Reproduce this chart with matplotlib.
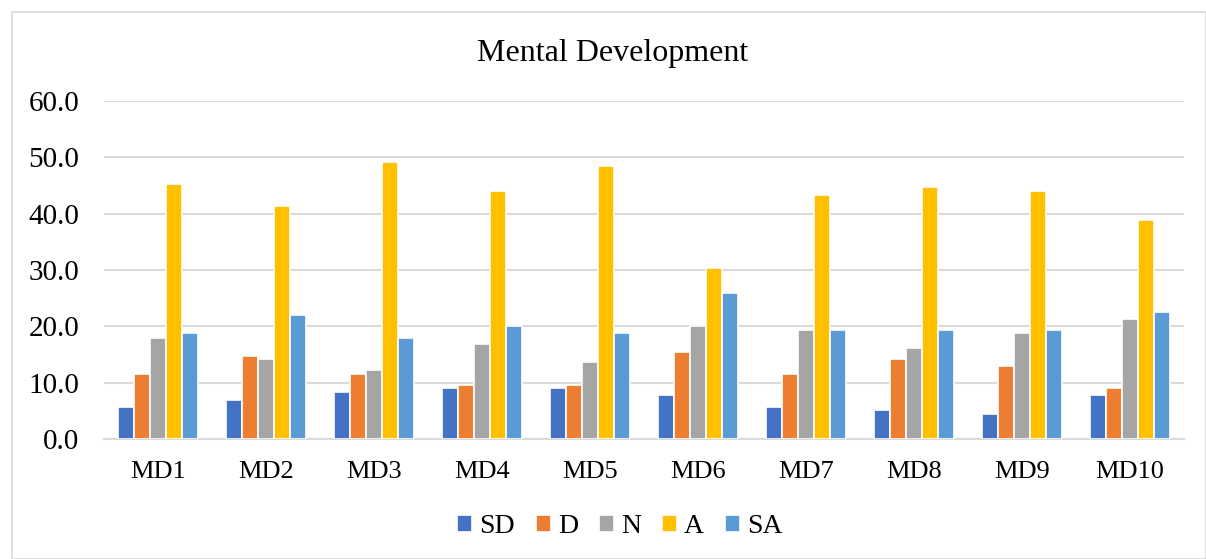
import matplotlib.pyplot as plt
import numpy as np

plt.rcParams['font.family'] = ['Liberation Serif', 'DejaVu Serif']

categories = ['MD1', 'MD2', 'MD3', 'MD4', 'MD5', 'MD6', 'MD7', 'MD8', 'MD9', 'MD10']
series = ['SD', 'D', 'N', 'A', 'SA']
SD = [5.7, 7.0, 8.3, 9.0, 9.0, 7.8, 5.7, 5.1, 4.5, 7.8]
D = [11.6, 14.8, 11.6, 9.6, 9.6, 15.4, 11.6, 14.2, 12.9, 9.0]
N = [18.0, 14.2, 12.2, 16.8, 13.6, 20.0, 19.3, 16.2, 18.8, 21.3]
A = [45.3, 41.4, 49.2, 44.0, 48.5, 30.4, 43.4, 44.7, 44.0, 38.8]
SA = [18.8, 22.0, 18.0, 20.0, 18.8, 25.9, 19.3, 19.3, 19.3, 22.6]
colors = ['#4472c4', '#ed7d31', '#a5a5a5', '#ffc000', '#5b9bd5']

values = [SD, D, N, A, SA]

fig = plt.figure(figsize=(12.06, 5.59), dpi=100)
# outer chart border
fig.patches.append(plt.Rectangle((12 / 1206, 0), 1 - 12 / 1206, 1 - 12 / 559,
                                 transform=fig.transFigure, fill=False,
                                 edgecolor='#d9d9d9', linewidth=1.2))
ax = fig.add_axes([104 / 1206, 0.2147, 1080 / 1206, 0.6046])

x = np.arange(len(categories))
pitch = 0.148
for i, (name, vals) in enumerate(zip(series, values)):
    ax.bar(x + (i - 2) * pitch, vals, width=pitch, color=colors[i],
           edgecolor='white', linewidth=1.2, label=name, zorder=3)

ax.set_xlim(-0.5, len(categories) - 0.5)
ax.set_ylim(0, 60)
ax.set_yticks(np.arange(0, 61, 10))
ax.set_yticklabels([f'{v:.1f}' for v in np.arange(0, 61, 10)], fontsize=21)
ax.set_xticks(x)
ax.set_xticklabels(categories, fontsize=19)
ax.tick_params(axis='x', length=0, pad=16)
ax.tick_params(axis='y', length=0, pad=18)
ax.yaxis.grid(True, color='#d9d9d9', linewidth=1.5, zorder=0)
for s in ['top', 'right', 'left']:
    ax.spines[s].set_visible(False)
ax.spines['bottom'].set_color('#d9d9d9')
ax.spines['bottom'].set_linewidth(1.5)

fig.text(0.508, 0.905, 'Mental Development', ha='center', va='center', fontsize=23)
fig.legend(loc='center', bbox_to_anchor=(0.514, 0.058), ncol=5, frameon=False,
           fontsize=20, handlelength=0.55, handleheight=0.55, handletextpad=0.25,
           columnspacing=0.75)

fig.savefig('out.png', dpi=100)
